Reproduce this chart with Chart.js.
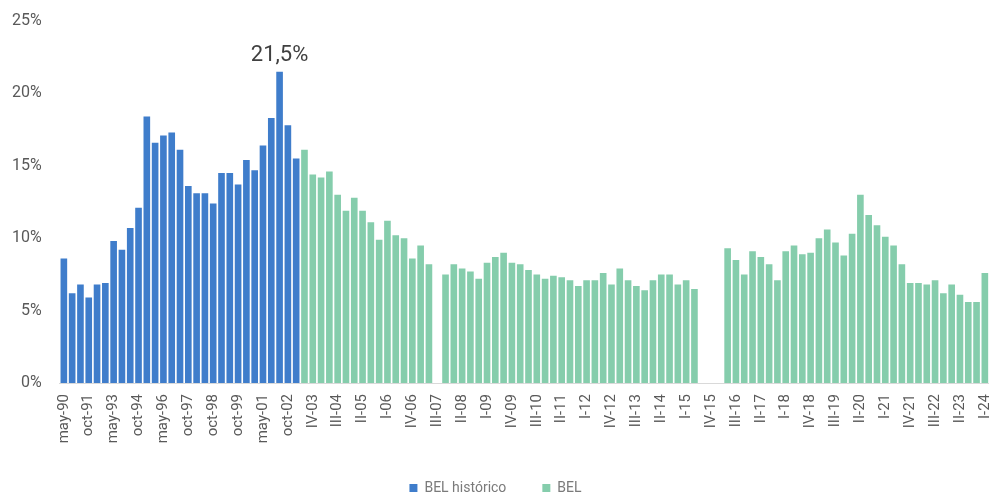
<!DOCTYPE html>
<html>
<head>
<meta charset="utf-8">
<script src="https://cdn.jsdelivr.net/npm/chart.js@4.4.1/dist/chart.umd.min.js"></script>
<style>
  html, body { margin: 0; padding: 0; background: #fff; }
  #wrap { width: 989px; height: 497px; }
</style>
</head>
<body>
<div id="wrap"><canvas id="belChart"></canvas></div>
<script>
// historical semester series (may/oct), only every third label is shown
var histLabels = ['may-90', '', '', 'oct-91', '', '', 'may-93', '', '', 'oct-94', '', '',
    'may-96', '', '', 'oct-97', '', '', 'oct-98', '', '', 'oct-99', '', '', 'may-01', '', '',
    'oct-02', ''];
var histValues = [8.6, 6.2, 6.8, 5.9, 6.8, 6.9, 9.8, 9.2, 10.7, 12.1,
    18.4, 16.6, 17.1, 17.3, 16.1, 13.6, 13.1, 13.1, 12.4, 14.5,
    14.5, 13.7, 15.4, 14.7, 16.4, 18.3, 21.5, 17.8, 15.5];

// quarterly series III-03 .. I-24 (null = no data)
var quarterLabels = [
    'III-03', 'IV-03',
    'I-04', 'II-04', 'III-04', 'IV-04', 'I-05', 'II-05', 'III-05', 'IV-05',
    'I-06', 'II-06', 'III-06', 'IV-06', 'I-07', 'II-07', 'III-07', 'IV-07',
    'I-08', 'II-08', 'III-08', 'IV-08', 'I-09', 'II-09', 'III-09', 'IV-09',
    'I-10', 'II-10', 'III-10', 'IV-10', 'I-11', 'II-11', 'III-11', 'IV-11',
    'I-12', 'II-12', 'III-12', 'IV-12', 'I-13', 'II-13', 'III-13', 'IV-13',
    'I-14', 'II-14', 'III-14', 'IV-14', 'I-15', 'II-15', 'III-15', 'IV-15',
    'I-16', 'II-16', 'III-16', 'IV-16', 'I-17', 'II-17', 'III-17', 'IV-17',
    'I-18', 'II-18', 'III-18', 'IV-18', 'I-19', 'II-19', 'III-19', 'IV-19',
    'I-20', 'II-20', 'III-20', 'IV-20', 'I-21', 'II-21', 'III-21', 'IV-21',
    'I-22', 'II-22', 'III-22', 'IV-22', 'I-23', 'II-23', 'III-23', 'IV-23',
    'I-24'];
var quarterValues = [
    16.1, 14.4,
    14.2, 14.6, 13.0, 11.9, 12.8, 11.9, 11.1, 9.9,
    11.2, 10.2, 10.0, 8.6, 9.5, 8.2, null, 7.5,
    8.2, 7.9, 7.7, 7.2, 8.3, 8.7, 9.0, 8.3,
    8.2, 7.8, 7.5, 7.2, 7.4, 7.3, 7.1, 6.7,
    7.1, 7.1, 7.6, 6.8, 7.9, 7.1, 6.7, 6.4,
    7.1, 7.5, 7.5, 6.8, 7.1, 6.5, null, null,
    null, 9.3, 8.5, 7.5, 9.1, 8.7, 8.2, 7.1,
    9.1, 9.5, 8.9, 9.0, 10.0, 10.6, 9.7, 8.8,
    10.3, 13.0, 11.6, 10.9, 10.1, 9.5, 8.2, 6.9,
    6.9, 6.8, 7.1, 6.2, 6.8, 6.1, 5.6, 5.6,
    7.6];

var peakText = '21,5%';

var categories = histLabels.concat(quarterLabels);
var histData = histValues.concat(quarterValues.map(function () { return null; }));
var belData = histValues.map(function () { return null; }).concat(quarterValues);
var peakIndex = histValues.indexOf(Math.max.apply(null, histValues));

var peakLabel = {
    id: 'peakLabel',
    afterDatasetsDraw: function (chart) {
        var bar = chart.getDatasetMeta(0).data[peakIndex];
        var ctx = chart.ctx;
        ctx.save();
        ctx.font = '22px Roboto';
        ctx.fillStyle = '#404040';
        ctx.textAlign = 'center';
        ctx.textBaseline = 'bottom';
        ctx.fillText(peakText, bar.x, bar.y - 5);
        ctx.restore();
    }
};

Chart.defaults.font.family = 'Roboto';
Chart.defaults.color = '#595959';

new Chart(document.getElementById('belChart').getContext('2d'), {
    type: 'bar',
    data: {
        labels: categories,
        datasets: [{
            label: 'BEL histórico',
            data: histData,
            backgroundColor: '#3F7DCB',
            categoryPercentage: 1,
            barPercentage: 0.8
        }, {
            label: 'BEL',
            data: belData,
            backgroundColor: '#85CDAC',
            categoryPercentage: 1,
            barPercentage: 0.8
        }]
    },
    options: {
        responsive: true,
        maintainAspectRatio: false,
        animation: false,
        layout: { padding: { top: 21, right: 0, left: 2, bottom: -8 } },
        datasets: { bar: { grouped: false } },
        scales: {
            x: {
                grid: { display: false },
                border: { color: '#d9d9d9' },
                ticks: {
                    autoSkip: false,
                    minRotation: 90,
                    maxRotation: 90,
                    font: { size: 15 },
                    callback: function (v, i) { return i % 3 === 0 ? categories[i] : ''; }
                },
                afterFit: function (s) {
                    s.height = 62;
                    s.paddingRight = 0;
                }
            },
            y: {
                min: 0,
                max: 25,
                grid: { display: false },
                border: { display: false },
                ticks: {
                    stepSize: 5,
                    padding: 10,
                    font: { size: 16 },
                    callback: function (v) { return v + '%'; }
                }
            }
        },
        plugins: {
            legend: {
                position: 'bottom',
                labels: { boxWidth: 8, boxHeight: 8, padding: 36, font: { size: 14 }, color: '#7a7a7a' }
            },
            tooltip: { enabled: false }
        }
    },
    plugins: [peakLabel]
});
</script>
</body>
</html>
